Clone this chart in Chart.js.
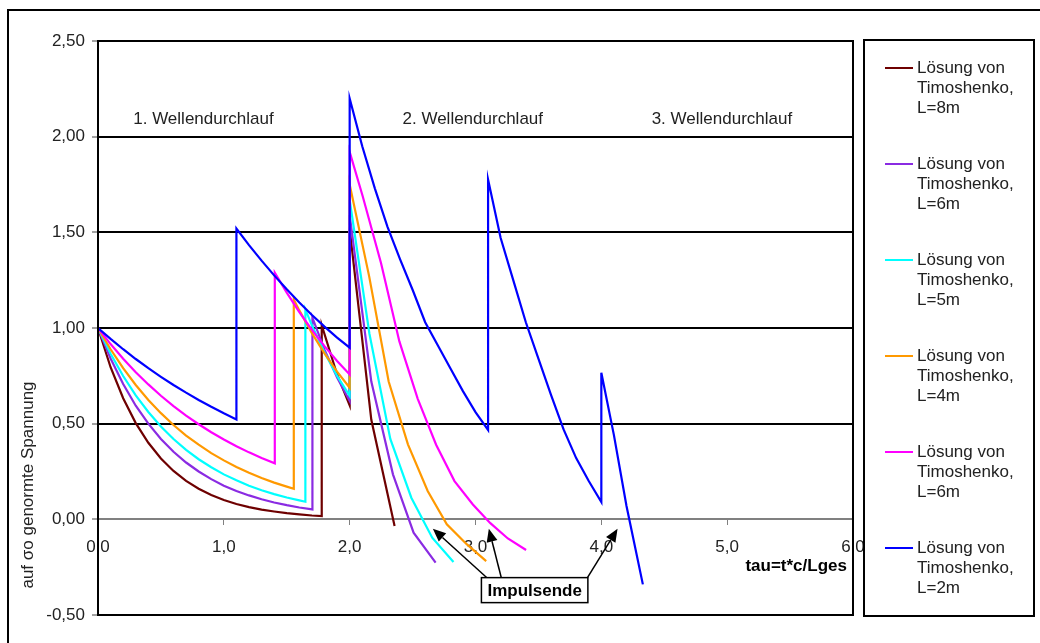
<!DOCTYPE html>
<html>
<head>
<meta charset="utf-8">
<script src="https://cdn.jsdelivr.net/npm/chart.js@4.4.1/dist/chart.umd.min.js"></script>
<style>
  html,body{margin:0;padding:0;background:#fff;}
  canvas{display:block;}
</style>
</head>
<body>
<canvas id="chart" width="1040" height="643"></canvas>
<script>
// ─── DATA ───────────────────────────────────────────────────────────
const seriesLen    = ['8m','6m','5m','4m','6m','2m'];
const seriesColors = ['#6e0000','#8a2be2','#00ffff','#ff9900','#ff00ff','#0000ff'];

// L=8m
const tauL8 = [0,0.1,0.2,0.3,0.4,0.5,0.6,0.7,0.8,0.9,1.0,1.1,1.2,1.3,1.4,1.5,1.6,1.7,1.778, 1.778,1.9,2.0, 2.0,2.172,2.357];
const sigL8 = [1,0.795,0.633,0.503,0.400,0.318,0.253,0.201,0.160,0.127,0.101,0.080,0.064,0.051,0.041,0.032,0.026,0.020,0.017, 1.015,0.757,0.596, 1.52,0.52,-0.035];
// L=6m
const tauL6 = [0,0.1,0.2,0.3,0.4,0.5,0.6,0.7,0.8,0.9,1.0,1.1,1.2,1.3,1.4,1.5,1.6,1.704, 1.704,1.8,1.9,2.0, 2.0,2.172,2.344,2.508,2.683];
const sigL6 = [1,0.841,0.707,0.594,0.500,0.420,0.353,0.297,0.250,0.210,0.176,0.148,0.125,0.105,0.088,0.074,0.062,0.052, 1.054,0.887,0.741,0.619, 1.59,0.72,0.235,-0.07,-0.226];
// L=5m
const tauL5 = [0,0.1,0.2,0.3,0.4,0.5,0.6,0.7,0.8,0.9,1.0,1.1,1.2,1.3,1.4,1.5,1.6,1.648, 1.648,1.7,1.8,1.9,2.0, 2.0,2.157,2.323,2.49,2.656,2.825];
const sigL5 = [1,0.865,0.749,0.648,0.561,0.485,0.420,0.363,0.314,0.272,0.235,0.204,0.176,0.152,0.132,0.114,0.099,0.092, 1.097,1.014,0.872,0.750,0.645, 1.67,0.97,0.42,0.113,-0.096,-0.223];
// L=4m
const tauL4 = [0,0.1,0.2,0.3,0.4,0.5,0.6,0.7,0.8,0.9,1.0,1.1,1.2,1.3,1.4,1.5,1.556, 1.556,1.6,1.7,1.8,1.9,2.0, 2.0,2.155,2.31,2.463,2.62,2.772,2.93,3.085];
const sigL4 = [1,0.889,0.790,0.702,0.624,0.555,0.493,0.438,0.390,0.346,0.308,0.274,0.243,0.216,0.192,0.171,0.160, 1.149,1.092,0.973,0.867,0.772,0.688, 1.75,1.27,0.72,0.392,0.148,-0.026,-0.13,-0.218];
// L=6m (second)
const tauL6b = [0,0.1,0.2,0.3,0.4,0.5,0.6,0.7,0.8,0.9,1.0,1.1,1.2,1.3,1.405, 1.405,1.5,1.6,1.7,1.8,1.9,2.0, 2.0,2.103,2.249,2.395,2.541,2.687,2.833,2.979,3.118,3.257,3.402];
const sigL6b = [1,0.916,0.839,0.769,0.705,0.646,0.592,0.542,0.497,0.455,0.417,0.382,0.350,0.321,0.293, 1.289,1.185,1.083,0.99,0.905,0.828,0.757, 1.92,1.69,1.34,0.93,0.63,0.39,0.2,0.078,-0.02,-0.1,-0.16];
// L=2m
const tauL2 = [0,0.1,0.2,0.3,0.4,0.5,0.6,0.7,0.8,0.9,1.0,1.1, 1.1,1.2,1.3,1.4,1.5,1.6,1.7,1.8,1.9,2.0,
               2.0,2.1,2.2,2.3,2.4,2.5,2.6,2.7,2.8,2.9,3.0,3.1, 3.1,3.2,3.3,3.4,3.5,3.6,3.7,3.8,3.9,4.0, 4.0,4.1,4.2,4.33];
const sigL2 = [1,0.943,0.889,0.838,0.790,0.745,0.702,0.662,0.624,0.588,0.554,0.522, 1.52,1.433,1.352,1.275,1.202,1.133,1.068,1.007,0.950,0.897,
               2.20,1.95,1.73,1.53,1.36,1.20,1.03,0.91,0.79,0.67,0.56,0.467, 1.776,1.47,1.25,1.03,0.84,0.65,0.47,0.32,0.20,0.09, 0.766,0.44,0.07,-0.34];

const seriesTau = [tauL8,tauL6,tauL5,tauL4,tauL6b,tauL2];
const seriesSig = [sigL8,sigL6,sigL5,sigL4,sigL6b,sigL2];

// annotations
const waveLabels = ['1. Wellendurchlauf','2. Wellendurchlauf','3. Wellendurchlauf'];
const waveX = [0.28,2.42,4.40];
const waveY = 2.09;
const arrowFrom = [[3.095,-0.308],[3.204,-0.303],[3.891,-0.303]];
const arrowTo   = [[2.661,-0.049],[3.106,-0.049],[4.129,-0.049]];

const FONT = '"Liberation Sans", Arial, sans-serif';
const fmt = (v,d)=>v.toFixed(d).replace('.',',');

// ─── PLUGIN: frames, legend, texts ─────────────────────────────────
const deco = {
  id:'deco',
  afterDraw(chart){
    const {ctx, chartArea:a, scales:{x,y}} = chart;
    ctx.save();
    ctx.strokeStyle='#000'; ctx.lineWidth=2;
    ctx.strokeRect(8,10,1080,700);
    ctx.strokeRect(a.left,a.top,a.right-a.left,a.bottom-a.top);
    ctx.strokeRect(864,40,170,576);

    // legend
    ctx.font='17px '+FONT; ctx.fillStyle='#222'; ctx.textBaseline='middle'; ctx.textAlign='left';
    seriesLen.forEach((len,i)=>{
      const ty=68+i*96;
      ctx.strokeStyle=seriesColors[i]; ctx.lineWidth=2;
      ctx.beginPath(); ctx.moveTo(885,ty); ctx.lineTo(913,ty); ctx.stroke();
      ['Lösung von','Timoshenko,','L='+len].forEach((t,j)=>ctx.fillText(t,917,ty+j*20));
    });

    // wave labels
    waveLabels.forEach((t,i)=>ctx.fillText(t,x.getPixelForValue(waveX[i]),y.getPixelForValue(waveY)));

    // y title
    ctx.save();
    ctx.translate(28,485); ctx.rotate(-Math.PI/2); ctx.textAlign='center';
    ctx.fillText('auf σo genormte Spannung',0,0);
    ctx.restore();

    // x title
    ctx.font='bold 17px '+FONT; ctx.fillStyle='#000'; ctx.textAlign='right';
    ctx.fillText('tau=t*c/Lges',x.getPixelForValue(5.952),y.getPixelForValue(-0.246));

    // Impulsende box + arrows
    const cx=x.getPixelForValue(3.47), cy=y.getPixelForValue(-0.37);
    const tw=ctx.measureText('Impulsende').width, bw=tw+12, bh=25;
    ctx.strokeStyle='#000'; ctx.lineWidth=1.5;
    arrowFrom.forEach((f,i)=>{
      const x1=x.getPixelForValue(f[0]), y1=y.getPixelForValue(f[1]);
      const x2=x.getPixelForValue(arrowTo[i][0]), y2=y.getPixelForValue(arrowTo[i][1]);
      const ang=Math.atan2(y2-y1,x2-x1), hl=13, hw=5.5;
      const bx=x2-hl*Math.cos(ang), by=y2-hl*Math.sin(ang);
      ctx.beginPath(); ctx.moveTo(x1,y1); ctx.lineTo(bx,by); ctx.stroke();
      ctx.beginPath(); ctx.moveTo(x2,y2);
      ctx.lineTo(bx+hw*Math.sin(ang),by-hw*Math.cos(ang));
      ctx.lineTo(bx-hw*Math.sin(ang),by+hw*Math.cos(ang));
      ctx.closePath(); ctx.fill();
    });
    ctx.fillStyle='#fff'; ctx.fillRect(cx-bw/2,cy-bh/2,bw,bh);
    ctx.strokeRect(cx-bw/2,cy-bh/2,bw,bh);
    ctx.fillStyle='#000'; ctx.textAlign='center';
    ctx.fillText('Impulsende',cx,cy+1);
    ctx.restore();
  }
};

// ─── CHART ─────────────────────────────────────────────────────────
new Chart(document.getElementById('chart'),{
  type:'scatter',
  data:{datasets:seriesTau.map((tau,i)=>({
    label:'Lösung von Timoshenko, L='+seriesLen[i],
    data:tau.map((t,j)=>({x:t,y:seriesSig[i][j]})),
    showLine:true, borderColor:seriesColors[i], backgroundColor:seriesColors[i],
    borderWidth:2.2, pointRadius:0, tension:0, order:6-i
  }))},
  options:{
    responsive:false, animation:false, devicePixelRatio:1,
    layout:{padding:{left:38,top:41,right:187,bottom:28}},
    plugins:{legend:{display:false},tooltip:{enabled:false}},
    scales:{
      x:{type:'linear',position:{y:0},min:0,max:6,
        ticks:{stepSize:1,maxRotation:0,padding:13,color:'#222',font:{family:FONT,size:17},callback:v=>fmt(v,1)},
        grid:{drawOnChartArea:false,drawTicks:true,tickLength:5,color:'#808080',lineWidth:1},
        border:{color:'#808080',width:2}},
      y:{type:'linear',position:'left',min:-0.5,max:2.5,
        afterFit:s=>{s.width=60;},
        ticks:{stepSize:0.5,padding:7,color:'#222',font:{family:FONT,size:17},callback:v=>fmt(v,2)},
        grid:{color:c=>c.tick&&c.tick.value===0?'rgba(0,0,0,0)':'#000',lineWidth:2,tickLength:6,tickColor:'#444',tickWidth:1},
        border:{color:'#000',width:2}}
    }
  },
  plugins:[deco]
});
</script>
</body>
</html>
